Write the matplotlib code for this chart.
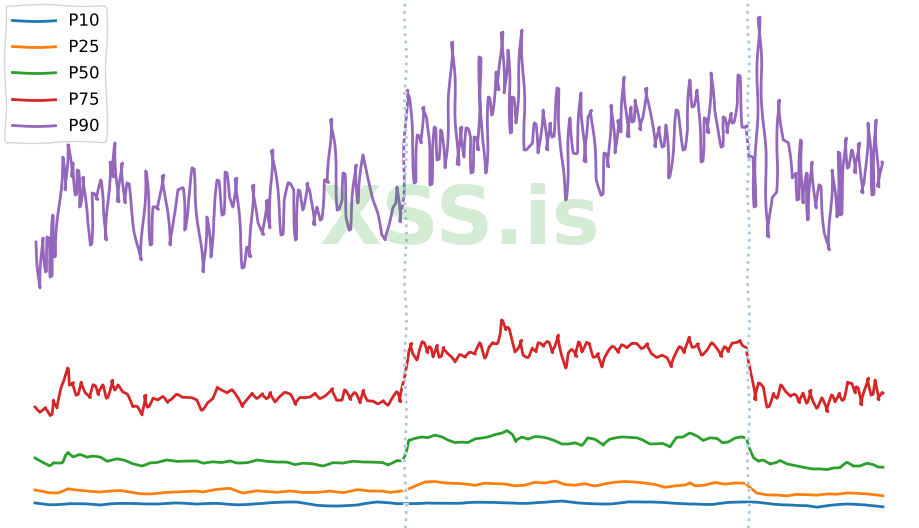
import numpy as np
import matplotlib.pyplot as plt

plt.xkcd()
plt.rcParams['font.family'] = ['DejaVu Sans']

# time (s) and latency readings for each percentile
p90_t = [1, 5, 8, 11, 13, 16, 18, 20, 23, 28, 30, 33, 37, 38, 41, 43, 45, 48, 52, 56, 58, 62, 66, 69, 71, 75, 78, 80, 83, 87,
         90, 93, 97, 100, 106, 111, 116, 119, 123, 128, 132, 135, 138, 143, 148, 150, 153, 158, 163, 168, 172, 176, 178,
         183, 188, 191, 194, 198, 201, 204, 208, 212, 215, 218, 222, 225, 228, 232, 235, 237, 240, 243, 247, 250, 254, 258,
         261, 264, 268, 272, 275, 279, 282, 286, 290, 293, 296, 299, 303, 307, 309, 312, 315, 318, 321, 323, 328, 332, 335,
         338, 342, 346, 350, 353, 357, 360, 362, 365, 368,
         372, 375, 377, 380, 383, 386, 388, 392, 396, 400, 403, 406, 410, 413, 417, 420, 423, 426, 429, 432, 435, 437, 440,
         443, 445, 447, 451, 454, 457, 461, 463, 467, 469, 473, 476, 478, 481, 484, 487, 490, 493, 497, 500, 503, 508, 512,
         515, 518, 523, 526, 531, 535, 539, 542, 546, 550, 552, 556, 558, 562, 567, 570, 573, 576, 580, 583, 586, 589, 593,
         596, 598, 600, 605, 608, 611, 615, 620, 624, 628, 631, 634, 638, 642, 645, 649, 652, 655, 658, 662, 663, 667, 670,
         673, 676, 679, 683, 687, 689, 692, 696, 698, 702, 704,
         708, 712, 713, 717, 720, 723, 724, 727, 730, 733, 737, 741, 744, 748, 753, 757, 761, 763, 766, 768, 772, 773, 777,
         781, 785, 790, 794, 797, 802, 804, 806, 811, 813, 817, 820, 824, 827, 830, 833, 838, 841, 843, 847]
p90_v = [278, 232, 282, 248, 283, 243, 305, 263, 300, 363, 330, 377, 343, 357, 325, 350, 313, 343, 298, 275, 327, 320, 340,
         320, 280, 358, 343, 377, 318, 357, 317, 337, 310, 288, 260, 349, 275, 313, 310, 345, 310, 275, 303, 330, 332, 290,
         320, 352, 300, 248, 303, 263, 300,
         340, 305, 348, 323, 313, 342, 297, 252, 273, 263, 335, 297, 290, 285, 320, 292, 370, 350, 320, 285, 320, 337, 330,
         280, 330, 310, 337, 330, 295, 313, 300, 340, 337, 401, 377, 310, 320, 347, 303, 290, 323, 355, 317, 365, 350, 337,
         320, 307, 285, 280, 293, 313, 317, 333, 298, 325,
         430, 422, 377, 337, 385, 377, 413, 403, 335, 393, 360, 390, 352, 393, 478, 427, 355, 393, 363, 392, 383, 347, 383,
         370, 463, 377, 347, 423, 405, 448, 430, 488, 427, 470, 387, 423, 397, 447, 490, 370, 373, 377, 397, 367, 410, 370,
         397, 383, 432, 363, 320, 402, 367, 367, 427, 358, 403, 410, 387, 340, 325, 367, 353, 415, 367, 400, 388, 443, 383,
         413, 398, 420, 390, 403, 432, 410, 373, 393, 373, 395, 342, 370, 410, 393, 370, 390, 440, 413, 430, 410, 358, 402,
         387, 447, 410, 393, 373, 403, 387, 407, 397, 417, 445,
         393, 395, 360, 363, 313, 453, 503, 427, 370, 283, 323, 328, 420, 380, 377, 342, 347, 320, 380, 317, 347, 300, 358,
         312, 335, 287, 270, 350, 303, 368, 305, 382, 352, 370, 347, 377, 327, 337, 397, 325, 400, 333, 358]

p75_t = [0, 5, 10, 13, 16, 18, 22, 27, 30, 33, 35, 38, 42, 46, 50, 55, 59, 63, 68, 72, 77, 80, 83, 87, 92, 97, 102, 107,
         110, 113, 118, 123, 128, 132, 137, 142, 147, 152, 157, 162, 167, 172, 177, 182, 187, 192, 197, 202, 207, 212, 217,
         222, 227, 232, 235, 240, 245, 250, 255, 260, 265, 270, 275, 280, 285, 290, 297, 302, 307, 310, 315, 320, 325, 328,
         333, 338, 343, 348, 353, 358, 362, 365,
         370, 373, 376, 378, 382, 385, 388, 392, 395, 398, 402, 405, 408, 413, 417, 420, 425, 430, 435, 440, 445, 450, 453,
         457, 462, 465, 467, 470, 473, 477, 480, 483, 486, 489, 493, 497, 501, 504, 508, 513, 517, 520, 523, 527, 531, 534,
         537, 541, 544, 547, 551, 555, 559, 563, 567, 570, 575, 578, 583, 587, 592, 597, 602, 607, 612, 617, 622, 627, 632,
         636, 640, 645, 649, 654, 658, 663, 667, 672, 677, 682, 686, 690, 693, 697, 702, 705, 708, 712, 715, 720,
         724, 728, 733, 738, 742, 746, 750, 755, 760, 764, 768, 772, 775, 779, 782, 787, 792, 797, 800, 804, 808, 812, 817,
         820, 822, 826, 829, 833, 837, 840, 843, 848]
p75_v = [113, 108, 113, 110, 105, 120, 112, 132, 140, 152, 135, 138, 125, 138, 127, 122, 135, 125, 135, 122, 140, 130, 135,
         128, 125, 113, 113, 105, 125, 113, 122, 120, 123, 117, 120, 125, 122, 122, 122, 120, 110, 118, 122, 133, 130, 127,
         130, 122, 113, 120, 127, 122, 127, 122, 128, 118, 123, 127, 125, 115, 122, 122, 123, 127, 122, 125, 132, 120, 120,
         130, 120, 127, 117, 130, 120, 120, 117, 120, 115, 123, 128, 118,
         143, 170, 177, 167, 160, 170, 178, 167, 173, 163, 175, 163, 173, 167, 163, 158, 165, 162, 167, 165, 177, 162, 173,
         178, 177, 187, 200, 190, 192, 177, 168, 172, 180, 165, 163, 172, 168, 177, 173, 178, 167, 173, 185, 167, 152, 167,
         170, 163, 178, 168, 178, 177, 163, 167, 153, 162, 170, 173, 167, 175, 172, 177, 177, 172, 177, 167, 163, 165, 162,
         153, 163, 173, 167, 183, 173, 177, 165, 170, 177, 170, 163, 173, 168, 177, 178, 180, 175, 173, 153, 120,
         137, 133, 113, 127, 122, 135, 128, 123, 125, 117, 127, 117, 130, 118, 112, 122, 108, 125, 118, 127, 120, 138, 137,
         127, 133, 115, 128, 142, 125, 140, 120, 127]

p50_t = [0, 8, 15, 18, 27, 30, 33, 38, 45, 52, 58, 65, 72, 82, 90, 98, 107, 115, 122, 132, 142, 152, 162, 168, 178, 187,
         195, 202, 212, 222, 232, 242, 252, 260, 268, 278, 288, 298, 308, 318, 328, 338, 348, 353, 362, 367,
         370, 373, 380, 387, 393, 400, 407, 413, 420, 427, 433, 440, 447, 453, 460, 467, 472, 477, 480, 487, 493, 500, 507,
         513, 520, 527, 533, 540, 547, 553, 560, 568, 575, 582, 588, 595, 602, 608, 615, 622, 628, 635, 642, 648, 655, 662,
         668, 675, 682, 688, 693, 700, 707, 712,
         715, 718, 723, 728, 735, 742, 745, 752, 758, 765, 772, 778, 785, 792, 798, 805, 812, 818, 825, 832, 838, 843, 848]
p50_v = [62, 58, 55, 58, 58, 65, 68, 63, 65, 62, 63, 62, 58, 61, 60, 57, 55, 58, 58, 60, 58, 58, 58, 56, 58, 58, 60, 58, 58,
         60, 58, 57, 57, 55, 57, 57, 55, 58, 57, 58, 57, 57, 57, 55, 60, 60,
         67, 80, 82, 83, 82, 84, 82, 79, 77, 78, 78, 82, 83, 84, 86, 87, 89, 85, 78, 82, 80, 83, 83, 82, 80, 77, 77, 78, 75,
         82, 80, 74, 80, 82, 83, 83, 83, 81, 77, 77, 77, 73, 82, 82, 86, 83, 79, 82, 82, 78, 79, 83, 84, 82,
         70, 62, 58, 59, 55, 57, 59, 56, 55, 54, 53, 52, 52, 51, 52, 52, 57, 53, 53, 56, 55, 53, 53]

p25_t = [0, 15, 23, 33, 43, 55, 65, 75, 85, 95, 105, 115, 128, 145, 162, 168, 182, 195, 208, 222, 235, 243, 255, 268, 282,
         295, 308, 322, 335, 348, 355, 365,
         370, 380, 390, 400, 410, 420, 430, 440, 450, 460, 470, 480, 490, 500, 510, 520, 530, 540, 550, 560, 570, 580, 590,
         600, 610, 620, 630, 640, 650, 655, 660, 670, 680, 690, 700, 710,
         715, 722, 732, 742, 752, 762, 772, 782, 792, 802, 812, 822, 832, 842, 848]
p25_v = [30, 28, 28, 32, 30, 28, 27, 28, 29, 28, 27, 27, 28, 28, 28, 27, 30, 32, 28, 30, 28, 27, 28, 27, 28, 30, 28, 30,
         28, 28, 27, 29,
         30, 35, 39, 39, 37, 36, 35, 34, 37, 37, 37, 35, 35, 37, 36, 38, 35, 35, 37, 35, 37, 38, 38, 37, 36, 35, 33, 35, 36,
         38, 35, 35, 37, 35, 36, 36,
         32, 27, 26, 26, 25, 26, 25, 24, 25, 25, 27, 27, 27, 26, 25]

p10_t = [0, 15, 35, 48, 65, 82, 102, 122, 142, 162, 182, 202, 222, 242, 262, 282, 302, 322, 342, 362,
         377, 393, 410, 427, 443, 460, 477, 493, 510, 527, 543, 560, 577, 593, 610, 627, 643, 660, 677, 693, 710,
         722, 738, 755, 772, 782, 795, 812, 828, 848]
p10_v = [17, 16, 17, 16, 14, 16, 17, 17, 17, 15, 16, 16, 17, 17, 17, 15, 15, 15, 17, 16,
         17, 18, 17, 16, 17, 18, 18, 17, 17, 18, 17, 17, 17, 18, 17, 17, 17, 17, 16, 17, 17,
         17, 16, 16, 15, 13, 14, 15, 15, 14]

change_points = [370, 713]

fig = plt.figure(figsize=(9.2, 5.28), dpi=100)
ax = fig.add_axes([0, 0, 1, 1])

ax.plot(p10_t, p10_v, color='#1f77b4', label='P10')
ax.plot(p25_t, p25_v, color='#ff7f0e', label='P25')
ax.plot(p50_t, p50_v, color='#2ca02c', label='P50')
ax.plot(p75_t, p75_v, color='#d62728', label='P75')
ax.plot(p90_t, p90_v, color='#9467bd', label='P90')

for cp in change_points:
    ax.axvline(cp, color='#a9c8e2', linestyle=':', linewidth=2)

ax.text(425, 298, 'XSS.is', fontsize=58, fontweight='bold', color='#2ca02c', alpha=0.2,
        ha='center', va='center', family='DejaVu Sans', path_effects=[])

ax.set_xlim(-35, 885)
ax.set_ylim(-8, 520)
ax.axis('off')
ax.legend(loc='upper left', fontsize=12, handlelength=2.6, borderaxespad=0.3)

fig.savefig('out.png', dpi=100)
